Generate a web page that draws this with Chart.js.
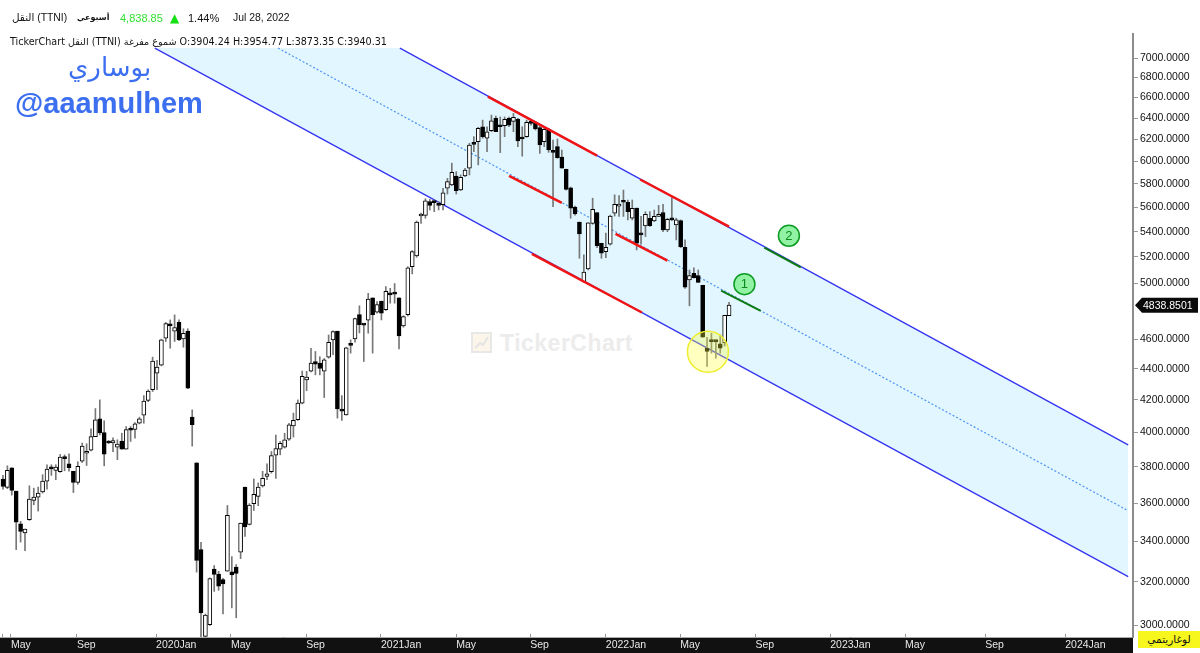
<!DOCTYPE html>
<html>
<head>
<meta charset="utf-8">
<title>TTNI</title>
<script src="https://cdn.jsdelivr.net/npm/chart.js@4"></script>
<style>
  html, body { margin: 0; padding: 0; background: #fff; }
  #wrap { position: relative; width: 1200px; height: 653px; overflow: hidden; font-family: "Liberation Sans", "DejaVu Sans", sans-serif; }
  #wrap canvas { position: absolute; left: 0; top: 0; }
  .t { position: absolute; white-space: nowrap; color: #111; }
  .head { top: 11px; font-size: 10.4px; line-height: 14px; }
  .info { top: 35px; font-size: 9.6px; line-height: 13px; font-family: "DejaVu Sans", sans-serif; }
</style>
</head>
<body>
<div id="wrap">
  <!-- watermark sits under the transparent canvas -->
  <svg class="t" style="left:471px;top:332px" width="21" height="21">
    <rect x="1" y="1" width="19" height="19" fill="#fbf5ea" stroke="#e8e8e8" stroke-width="2"/>
    <path d="M4 16 L9 11 L12 13 L17 5" fill="none" stroke="#e4e4e4" stroke-width="2"/>
  </svg>
  <div class="t" style="left:500px;top:330px;font:bold 23px 'Liberation Sans';color:#ececec;letter-spacing:.5px">TickerChart</div>
  <canvas id="chart" width="1200" height="653"></canvas>

  <div class="t head" style="left:12px" dir="ltr"><span dir="rtl">النقل</span> (TTNI)</div>
  <div class="t head" style="left:77px;font-weight:bold;font-family:'DejaVu Sans';font-size:8px" dir="rtl">أسبوعي</div>
  <div class="t head" style="left:120px;color:#33e033;font-size:11px">4,838.85</div>
  <div class="t head" style="left:170px;color:#14e014;font-size:12px;font-family:'DejaVu Sans'">▲</div>
  <div class="t head" style="left:188px;font-size:11px">1.44%</div>
  <div class="t head" style="left:233px">Jul 28, 2022</div>

  <div class="t info" style="left:10px" dir="ltr">TickerChart <span dir="rtl">النقل</span> (TTNI) <span dir="rtl">شموع مفرغة</span> O:3904.24 H:3954.77 L:3873.35 C:3940.31</div>

  <div class="t" style="left:68px;top:52px;font:26px 'DejaVu Sans';color:#3b6ff0" dir="rtl">بوساري</div>
  <div class="t" style="left:15px;top:87px;font:bold 29px 'Liberation Sans';color:#3b6ff0">@aaamulhem</div>

  <div class="t" style="left:1138px;top:631px;width:62px;height:17px;line-height:17px;background:#f7f71e;text-align:center;font:10.5px/17px 'DejaVu Sans'" dir="rtl">لوغاريتمي</div>
</div>

<script>
// weekly candles
const opens = [
  3732,3685,3795,3665,3490,3443,3512,3614,3632,3660,3719,3795,3780,3773,3851,3818,3775,3713,3833,3878,
  3896,3976,4083,4000,3941,3938,3914,3949,3902,4018,4018,4056,4105,4196,4264,4371,4424,4606,4696,4654,
  4717,4600,4654,4093,3823,3358,2950,3002,3262,3238,3211,3252,3248,3272,3345,3687,3487,3597,3636,3694,
  3746,3773,3867,3902,3914,3961,4040,4077,4180,4328,4385,4448,4437,4385,4477,4594,4654,4142,4107,4560,
  4601,4771,4700,4731,4892,4789,4868,4807,4919,4924,4892,4691,4771,5126,5208,5528,5533,5648,5645,5622,
  5622,5762,5790,5869,5747,5869,5937,6163,6178,6317,6209,6280,6396,6333,6327,6396,6368,6390,6212,6224,
  6363,6358,6308,6178,6293,6092,6132,6037,5928,5767,5602,5479,5012,5108,5468,5556,5308,5242,5300,5552,
  5610,5652,5643,5510,5595,5382,5447,5510,5488,5525,5556,5414,5510,5455,5490,5276,5025,5075,5058,4985,
  4537,4587,4587,4567,4574,4763
];
const highs = [
  3752,3806,3795,3665,3503,3463,3694,3681,3687,3756,3812,3812,3812,3871,3869,3875,3775,3829,3938,3934,
  4022,4146,4200,4071,3953,3969,3957,3996,4036,4036,4060,4093,4227,4264,4477,4455,4599,4715,4733,4769,
  4733,4671,4671,4138,3823,3395,3050,3219,3279,3251,3217,3587,3323,3284,3494,3687,3597,3732,3710,3775,
  3818,3888,3985,3947,3996,4056,4118,4200,4385,4383,4537,4515,4480,4468,4628,4657,4654,4227,4544,4594,
  4747,4834,4702,4925,4892,4865,4868,4975,4962,4998,4892,4763,5125,5250,5487,5552,5673,5667,5662,5648,
  5762,5848,5982,5907,5878,5937,6163,6224,6312,6380,6317,6428,6419,6410,6410,6410,6444,6396,6317,6380,
  6380,6363,6324,6317,6302,6193,6202,6101,5930,5773,5610,5479,5216,5473,5677,5556,5308,5388,5536,5706,
  5699,5747,5662,5662,5595,5525,5564,5564,5578,5617,5626,5510,5683,5510,5496,5334,5100,5116,5100,4985,
  4612,4640,4587,4628,4766,4860
];
const lows = [
  3676,3678,3643,3358,3396,3353,3508,3591,3557,3654,3676,3752,3728,3769,3778,3776,3657,3702,3825,3808,
  3892,3976,3986,3806,3934,3888,3841,3902,3902,3947,3967,4052,4056,4189,4253,4264,4419,4583,4537,4583,
  4589,4544,4271,3920,3247,2943,2936,2998,3155,3160,3050,3251,3078,3033,3313,3425,3484,3560,3586,3687,
  3728,3765,3735,3869,3908,3953,3973,4073,4175,4258,4380,4360,4360,4215,4470,4493,4087,4073,4105,4504,
  4578,4642,4448,4640,4504,4781,4733,4800,4853,4853,4533,4682,4761,5070,5198,5468,5510,5578,5564,5578,
  5578,5713,5784,5713,5741,5862,5878,6086,5967,6209,6086,6270,6270,6077,6224,6317,6270,6132,6045,6218,
  6333,6286,6071,6132,6080,5606,6026,5937,5747,5510,5536,5190,5005,5100,5460,5273,5190,5195,5293,5528,
  5525,5525,5496,5496,5255,5300,5361,5443,5482,5525,5400,5400,5490,5334,5273,4962,4834,5038,5005,4612,
  4415,4504,4470,4504,4552,4763
];
const closes = [
  3690,3780,3668,3498,3451,3463,3622,3632,3654,3720,3788,3789,3799,3856,3847,3795,3713,3803,3920,3890,
  3976,4077,3998,3873,3938,3953,3932,3902,4018,4014,4052,4083,4192,4256,4450,4411,4594,4708,4691,4680,
  4594,4639,4275,4047,3304,3055,3045,3216,3236,3180,3190,3534,3233,3241,3494,3474,3589,3647,3687,3735,
  3761,3864,3906,3936,3957,4047,4073,4180,4350,4346,4437,4431,4402,4459,4578,4652,4144,4130,4540,4556,
  4742,4700,4696,4882,4771,4843,4781,4940,4914,4919,4621,4756,5117,5242,5479,5545,5656,5617,5640,5617,
  5724,5820,5902,5741,5857,5922,6147,6153,6302,6224,6270,6373,6270,6317,6387,6333,6406,6184,6202,6358,
  6349,6296,6147,6293,6101,6080,6032,5937,5753,5593,5545,5382,5083,5473,5584,5289,5229,5276,5528,5626,
  5626,5643,5564,5592,5308,5374,5542,5449,5525,5542,5414,5500,5496,5496,5281,4970,5057,5042,5005,4612,
  4515,4582,4582,4537,4766,4838.85
];

const yTicks = [3000,3200,3400,3600,3800,4000,4200,4400,4600,5000,5200,5400,5600,5800,6000,6200,6400,6600,6800,7000];
const xTickWeeks = [-0.1,1.8,16.8,34.8,51.8,68.9,85.9,103,119.8,137,153.9,171,188,205,223.2,241.4];
const xTickLabels = ["","May","Sep","2020Jan","May","Sep","2021Jan","May","Sep","2022Jan","May","Sep","2023Jan","May","Sep","2024Jan"];
const lastPrice = 4838.8501;

// [week, price] pairs of the drawn trend lines
const upperLine = [[90.2,7105],[255.7,3927]];
const middleLine = [[62.5,7105],[255.7,3559]];
const lowerLine = [[34.5,7105],[255.7,3225]];
const bandWeeks = [34.5,90.2,255.7];
const bandTop = [7105,7105,3927];
const bandBottom = [7105,5821,3225];
const redLines = [
  [[110.2,6607],[135,6050]],
  [[144.8,5838],[165,5441]],
  [[115,5869],[127,5637]],
  [[139.2,5382],[151,5172]],
  [[120.2,5224],[145.2,4786]]
];
const greenLines = [
  [[173,5273],[181.3,5120]],
  [[163.2,4945],[172.2,4798]]
];
const markers = [[168.5,4993,"1"],[178.6,5368,"2"]];
const highlight = [160.2,4513];

const toXY = (pts) => pts.map((p) => ({ x: p[0], y: p[1] }));
const lineSet = (pts, color, width, order, dash) => ({
  type: "line", data: toXY(pts), borderColor: color, borderWidth: width, borderDash: dash || [],
  pointRadius: 0, fill: false, order: order, tension: 0
});

const datasets = [
  // band is datasets[0] filling down to datasets[1]
  { type: "line", data: bandWeeks.map((w, i) => ({ x: w, y: bandTop[i] })), borderWidth: 0, pointRadius: 0,
    backgroundColor: "#e1f6ff", fill: 1, order: 20 },
  { type: "line", data: bandWeeks.map((w, i) => ({ x: w, y: bandBottom[i] })), borderWidth: 0, pointRadius: 0,
    fill: false, order: 21 },
  lineSet(upperLine, "#3434f0", 1.3, 10),
  lineSet(lowerLine, "#3434f0", 1.3, 10),
  lineSet(middleLine, "#4f94f2", 1.2, 10, [2, 2]),
  // wicks
  { type: "bar", grouped: false, maxBarThickness: 1, barPercentage: 1, categoryPercentage: 1, order: 6,
    data: highs.map((h, i) => ({ x: i, y: [lows[i], h] })), backgroundColor: "#777" },
  // bodies
  { type: "bar", grouped: false, maxBarThickness: 4, barPercentage: 1, categoryPercentage: 1, order: 5,
    minBarLength: 2, borderSkipped: false, borderWidth: 1, borderColor: "#000",
    data: opens.map((o, i) => ({ x: i, y: [o, closes[i]] })),
    backgroundColor: opens.map((o, i) => (closes[i] >= o ? "#fff" : "#000")) },
  ...redLines.map((l) => lineSet(l, "#f01414", 2.5, 4)),
  ...greenLines.map((l) => lineSet(l, "#0d7a12", 2, 4)),
  { type: "scatter", data: markers.map((m) => ({ x: m[0], y: m[1] })), pointRadius: 10.5, pointBorderWidth: 1.5,
    pointBackgroundColor: "#92f2a4", pointBorderColor: "#0c9c22", order: 2 },
  { type: "scatter", data: [{ x: highlight[0], y: highlight[1] }], pointRadius: 20.5, pointBorderWidth: 1.5,
    pointBackgroundColor: "rgba(255,255,60,0.32)", pointBorderColor: "#eeee30", order: 1 }
];

const trimmings = {
  id: "trimmings",
  beforeDraw(chart) {
    // black strip behind the date labels
    const { ctx, scales } = chart;
    ctx.save();
    ctx.fillStyle = "#111";
    ctx.fillRect(0, scales.x.top, scales.x.right, 653 - scales.x.top);
    ctx.restore();
  },
  afterDraw(chart) {
    const { ctx, scales } = chart;
    ctx.save();
    ctx.textAlign = "center";
    ctx.textBaseline = "middle";
    ctx.font = "13px 'Liberation Sans'";
    ctx.fillStyle = "#0c8a20";
    markers.forEach((m) => ctx.fillText(m[2], scales.x.getPixelForValue(m[0]), scales.y.getPixelForValue(m[1]) + 0.5));
    // last price tag
    const y = scales.y.getPixelForValue(lastPrice);
    ctx.fillStyle = "#0a0a0a";
    ctx.beginPath();
    ctx.moveTo(1135, y);
    ctx.lineTo(1142, y - 7.5);
    ctx.lineTo(1198, y - 7.5);
    ctx.lineTo(1198, y + 7.5);
    ctx.lineTo(1142, y + 7.5);
    ctx.closePath();
    ctx.fill();
    ctx.fillStyle = "#fff";
    ctx.font = "10.5px 'Liberation Sans'";
    ctx.textAlign = "left";
    ctx.fillText(lastPrice.toFixed(4), 1143, y + 0.5);
    ctx.restore();
  }
};

// no label padding, the plot runs right up to the window edges
const noPadding = (scale) => {
  scale.paddingLeft = 0;
  scale.paddingRight = 0;
  scale.paddingTop = 0;
  scale.paddingBottom = 0;
};

new Chart(document.getElementById("chart"), {
  data: { datasets: datasets },
  plugins: [trimmings],
  options: {
    responsive: false,
    animation: false,
    events: [],
    layout: { autoPadding: false, padding: { top: 34, left: 0, right: 0, bottom: 0 } },
    plugins: { legend: { display: false }, tooltip: { enabled: false } },
    scales: {
      x: {
        type: "linear",
        offset: false,
        min: -0.68,
        max: 256.8,
        bounds: "data",
        afterBuildTicks: (scale) => { scale.ticks = xTickWeeks.map((v) => ({ value: v })); },
        afterFit: (scale) => { scale.height = 16; noPadding(scale); },
        grid: { offset: false, drawOnChartArea: false, tickLength: -3, color: "#999" },
        border: { color: "#aaa", width: 1 },
        ticks: {
          autoSkip: false, maxRotation: 0, align: "start", padding: 5, color: "#e8e8e8",
          font: { family: "Liberation Sans", size: 10.5 },
          callback: (v, i) => xTickLabels[i]
        }
      },
      y: {
        type: "logarithmic",
        position: "right",
        min: 2947,
        max: 7256,
        bounds: "data",
        afterBuildTicks: (scale) => { scale.ticks = yTicks.map((v) => ({ value: v })); },
        afterFit: (scale) => { scale.width = 67; noPadding(scale); },
        grid: { drawOnChartArea: false, tickLength: 5, color: "#999" },
        border: { color: "#8c8c8c", width: 2 },
        ticks: {
          autoSkip: false, padding: 2, color: "#111",
          font: { family: "Liberation Sans", size: 10.5 },
          callback: (v) => Number(v).toFixed(4)
        }
      }
    }
  }
});
</script>
</body>
</html>
